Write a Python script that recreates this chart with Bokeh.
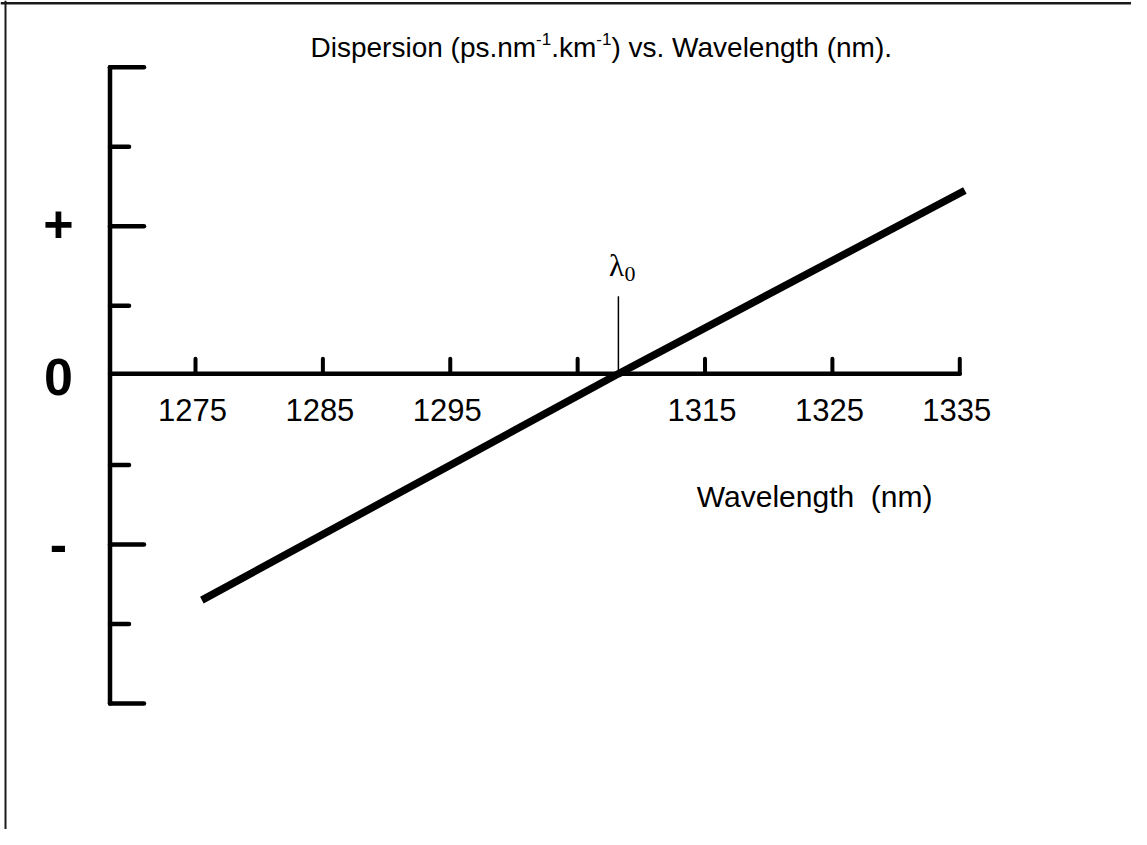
from bokeh.plotting import figure
from bokeh.models import Range1d
from bokeh.core.properties import value
from bokeh.embed import file_html
from bokeh.resources import INLINE

# ---------------- data ----------------
WAVELENGTH = [1275.5, 1308.2, 1335.4]          # nm
DISPERSION = [-2.70, 0.145, 2.45]               # arbitrary units (one unit = one y tick)
LAMBDA0 = 1308.2                                # zero-dispersion wavelength
LAMBDA0_MARK_TOP = 1.12
X_TICKS = [1275, 1285, 1295, 1305, 1315, 1325, 1335]
X_TICK_LABELS = ["1275", "1285", "1295", "", "1315", "1325", "1335"]
Y_MAJOR_TICKS = [4, 2, -2, -4]
Y_MINOR_TICKS = [3, 1, -1, -3]
Y_LABEL_POS = [2, 0, -2]
Y_LABELS = ["+", "0", "-"]
Y_LABEL_SHIFT = [-2, -8, 0]                     # px
ZERO_LINE = 0.145                               # level of the horizontal axis
TITLE_PARTS = ["Dispersion (ps.nm", "-1", ".km", "-1", ") vs. Wavelength (nm)."]
TITLE_IS_SUP = [False, True, False, True, False]
X_LABEL = "Wavelength\u00a0 (nm)"

# ---------------- layout ----------------
W, H = 1131, 829
PX_NM = 12.738          # pixels per nm
PX_UNIT = 79.54         # pixels per y unit
X_START = 1275 - 195 / PX_NM
X_END = X_START + W / PX_NM
Y_END = 384.85 / PX_UNIT
Y_START = Y_END - H / PX_UNIT


def dx(px):
    return X_START + px / PX_NM


def dy(py):
    return Y_END - py / PX_UNIT


# Arial / Liberation Sans advance widths (1/1000 em) for title layout
ADV = {" ": 278, "(": 333, ")": 333, ".": 278, "-": 333, "1": 556,
       "D": 722, "W": 944, "a": 556, "e": 556, "g": 556, "h": 556, "i": 222,
       "k": 500, "l": 222, "m": 833, "n": 556, "o": 556, "p": 556, "r": 333,
       "s": 500, "t": 278, "v": 500}


def text_width(s, size):
    return sum(ADV.get(c, 556) for c in s) * size / 1000.0


p = figure(width=W, height=H, x_range=Range1d(X_START, X_END),
           y_range=Range1d(Y_START, Y_END), output_backend="svg",
           toolbar_location=None, tools="", min_border=0,
           x_axis_location=None, y_axis_location=None,
           outline_line_color=None, background_fill_color="white",
           border_fill_color="white")
p.xgrid.visible = False
p.ygrid.visible = False

SANS = value("Liberation Sans")
SERIF = value("Liberation Serif")

# frame (top and left edges)
p.line([dx(5), dx(5)], [Y_START, Y_END], line_color="#1a1a1a", line_width=2)
p.line([X_START, X_END], [dy(2.7), dy(2.7)], line_color="#1a1a1a", line_width=2.5)

# vertical axis
Y_AXIS_X = dx(109.5)
p.line([Y_AXIS_X, Y_AXIS_X], [min(Y_MAJOR_TICKS), max(Y_MAJOR_TICKS)],
       line_color="black", line_width=4.5, line_cap="round")
p.segment(x0=[Y_AXIS_X] * len(Y_MAJOR_TICKS), y0=Y_MAJOR_TICKS,
          x1=[Y_AXIS_X + 34 / PX_NM] * len(Y_MAJOR_TICKS), y1=Y_MAJOR_TICKS,
          line_color="black", line_width=4.5, line_cap="round")
p.segment(x0=[Y_AXIS_X] * len(Y_MINOR_TICKS), y0=Y_MINOR_TICKS,
          x1=[Y_AXIS_X + 19 / PX_NM] * len(Y_MINOR_TICKS), y1=Y_MINOR_TICKS,
          line_color="black", line_width=4.5, line_cap="round")
p.text(x=[dx(58)] * len(Y_LABELS), y=Y_LABEL_POS, text=Y_LABELS,
       y_offset=Y_LABEL_SHIFT, text_align="center", text_baseline="middle",
       text_font=SANS, text_font_style="bold", text_font_size=value("52px"),
       text_color="black")

# horizontal axis
p.line([Y_AXIS_X, max(X_TICKS)], [ZERO_LINE, ZERO_LINE], line_color="black",
       line_width=4.5, line_cap="round")
p.segment(x0=X_TICKS, y0=[ZERO_LINE] * len(X_TICKS), x1=X_TICKS,
          y1=[ZERO_LINE + 15 / PX_UNIT] * len(X_TICKS), line_color="black",
          line_width=4, line_cap="round")
p.text(x=X_TICKS, y=[dy(409)] * len(X_TICKS), text=X_TICK_LABELS, x_offset=-3,
       text_align="center", text_baseline="alphabetic", text_font=SANS,
       text_font_size=value("31px"), text_color="black")
p.text(x=[dx(932)], y=[dy(496)], text=[X_LABEL], text_align="right",
       text_baseline="alphabetic", text_font=SANS,
       text_font_size=value("30px"), text_color="black")

# lambda0 marker
p.line([LAMBDA0, LAMBDA0], [ZERO_LINE, LAMBDA0_MARK_TOP], line_color="black",
       line_width=1.5)
p.text(x=[LAMBDA0], y=[dy(265)], text=["\u03bb"], x_offset=-2,
       text_align="center", text_baseline="alphabetic", text_font=SERIF,
       text_font_size=value("31px"), text_color="black")
p.text(x=[LAMBDA0], y=[dy(273)], text=["0"], x_offset=6,
       text_align="left", text_baseline="alphabetic", text_font=SERIF,
       text_font_size=value("22px"), text_color="black")

# dispersion line
p.line(WAVELENGTH, DISPERSION, line_color="black", line_width=7.5,
       line_cap="butt")

# title (superscripts drawn as smaller raised text)
F_MAIN, F_SUP, SUP_RAISE = 28.0, 17.0, 9.0
offsets, raises, sizes = [], [], []
cursor = 0.0
for part, sup in zip(TITLE_PARTS, TITLE_IS_SUP):
    size = F_SUP if sup else F_MAIN
    offsets.append(cursor)
    raises.append(-SUP_RAISE if sup else 0.0)
    sizes.append("%gpx" % size)
    cursor += text_width(part, size)
p.text(x=[dx(310)] * len(TITLE_PARTS), y=[dy(47)] * len(TITLE_PARTS),
       text=TITLE_PARTS, x_offset=offsets, y_offset=raises,
       text_font_size=sizes, text_align="left", text_baseline="alphabetic",
       text_font=SANS, text_color="black")

open("out.html", "w").write(file_html(p, INLINE))
